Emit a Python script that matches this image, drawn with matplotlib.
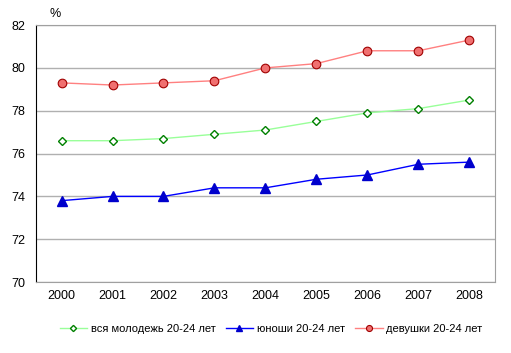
import matplotlib.pyplot as plt
import numpy as np

plt.rcParams['font.family'] = ['Liberation Sans', 'DejaVu Sans']

years = ['2000', '2001', '2002', '2003', '2004', '2005', '2006', '2007', '2008']
all_youth = [76.6, 76.6, 76.7, 76.9, 77.1, 77.5, 77.9, 78.1, 78.5]
boys = [73.8, 74.0, 74.0, 74.4, 74.4, 74.8, 75.0, 75.5, 75.6]
girls = [79.3, 79.2, 79.3, 79.4, 80.0, 80.2, 80.8, 80.8, 81.3]

fig = plt.figure(figsize=(5.11, 3.53), dpi=100)
ax = fig.add_axes([0.0705, 0.201, 0.898, 0.728])

x = np.arange(len(years))

ax.plot(x, all_youth, color='#99ff99', lw=1, marker='D', ms=4.5,
        mfc='white', mec='#008000', mew=1, label='вся молодежь 20-24 лет')
ax.plot(x, boys, color='#0000ff', lw=1, marker='^', ms=6.5,
        mfc='#0000cc', mec='#0000cc', label='юноши 20-24 лет')
ax.plot(x, girls, color='#ff8080', lw=1, marker='o', ms=6.2,
        mfc='#f07070', mec='#a00000', mew=0.8, label='девушки 20-24 лет')

ax.set_xlim(-0.5, len(years) - 0.5)
ax.set_ylim(70, 82)
ax.set_yticks(range(70, 83, 2))
ax.set_xticks(x)
ax.set_xticklabels(years)
ax.tick_params(axis='both', labelsize=9, length=0, pad=6)
ax.tick_params(axis='y', pad=8)

ax.grid(axis='y', color='#b0b0b0', lw=1)
ax.set_axisbelow(True)
for side in ['top', 'right', 'bottom']:
    ax.spines[side].set_color('#a0a0a0')
ax.spines['left'].set_color('black')

ax.text(0.03, 1.03, '%', transform=ax.transAxes, fontsize=9)

fig.legend(loc='center', bbox_to_anchor=(0.53, 0.067), ncol=3, frameon=False,
           fontsize=8, handlelength=2.5, columnspacing=0.9, handletextpad=0.3,
           markerscale=0.7)

fig.savefig('out.png', dpi=100)
